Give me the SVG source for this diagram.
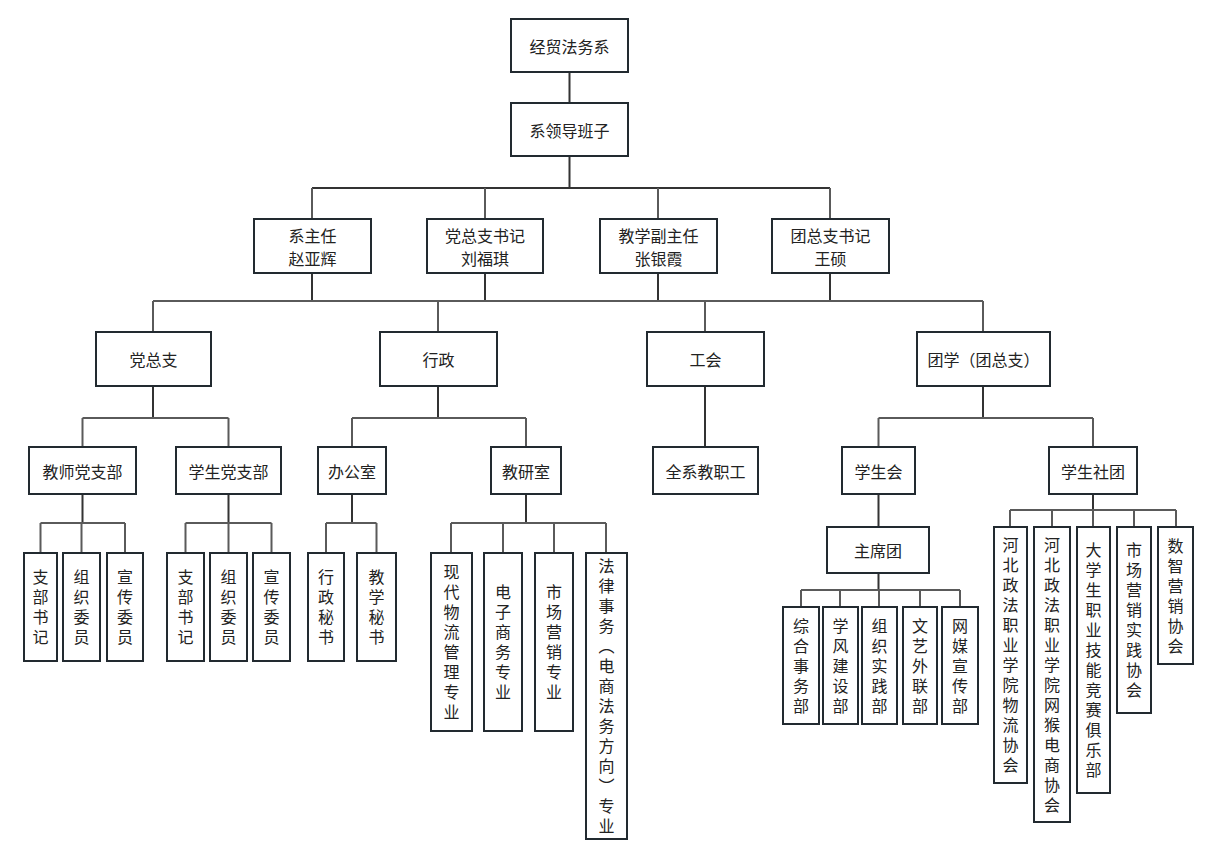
<svg xmlns="http://www.w3.org/2000/svg" width="1216" height="859" viewBox="0 0 1216 859">
<style>
.b rect{fill:#fff;stroke:#222a30;stroke-width:2}
text{font-family:"Noto Sans CJK SC","Noto Sans",sans-serif;font-size:16px;fill:#222;text-anchor:middle;dominant-baseline:central}
.v{writing-mode:vertical-rl;letter-spacing:4px}
#conn path{fill:none;stroke-width:2}
.t{stroke:#333}
.r{stroke:#5a5a5a}
</style>
<rect width="1216" height="859" fill="#fff"/>
<g id="conn">
<path class="t" d="M569.5 72V103M569.5 156V188"/>
<path class="t" d="M312 188H830"/>
<path class="r" d="M312 188V219M485 188V219M658 188V219M830 188V219"/>
<path class="t" d="M312 273V301M485 273V301M658 273V301M830 273V301"/>
<path class="r" d="M153 301H983M153 301V332M438 301V332M705 301V332M983 301V332"/>
<path class="t" d="M153 386V418M438 386V418M705 386V447M983 386V418"/>
<path class="r" d="M82.5 418H228.5M82.5 418V447M228.5 418V447"/>
<path class="r" d="M352 418H526M352 418V447M526 418V447"/>
<path class="r" d="M878.5 418H1093M878.5 418V447M1093 418V447"/>
<path class="t" d="M82.5 494V523M228.5 494V523M352 494V523M526 494V523"/>
<path class="r" d="M40.5 523H125M40.5 523V553M81.5 523V553M125 523V553"/>
<path class="r" d="M185.5 523H271.5M185.5 523V553M228.5 523V553M271.5 523V553"/>
<path class="r" d="M326 523H376.5M326 523V553M376.5 523V553"/>
<path class="r" d="M451 523H606M451 523V553M503 523V553M554 523V553M606 523V553"/>
<path class="t" d="M878.5 494V527M878.5 573V590"/>
<path class="r" d="M801 590H960M801 590V607M840 590V607M879 590V607M920 590V607M960 590V607"/>
<path class="t" d="M1093 494V510"/>
<path class="r" d="M1010 510H1176M1010 510V527M1052 510V527M1093 510V527M1134 510V527M1176 510V527"/>
</g>
<g class="b">
<g id="n-root"><rect x="511" y="19" width="117" height="53"/><text x="569.5" y="45.5">经贸法务系</text></g>
<g id="n-lead"><rect x="511" y="103" width="117" height="53"/><text x="569.5" y="129.5">系领导班子</text></g>
<g id="n-zr"><rect x="254" y="219" width="117" height="54"/><text x="312.5" y="234.5">系主任<tspan x="312.5" dy="23.5">赵亚辉</tspan></text></g>
<g id="n-dz"><rect x="427" y="219" width="116" height="54"/><text x="485" y="234.5">党总支书记<tspan x="485" dy="23.5">刘福琪</tspan></text></g>
<g id="n-jx"><rect x="600" y="219" width="117" height="54"/><text x="658.5" y="234.5">教学副主任<tspan x="658.5" dy="23.5">张银霞</tspan></text></g>
<g id="n-tz"><rect x="772" y="219" width="117" height="54"/><text x="830.5" y="234.5">团总支书记<tspan x="830.5" dy="23.5">王硕</tspan></text></g>
<g id="n-dzz"><rect x="96" y="332" width="115" height="54"/><text x="153.5" y="359">党总支</text></g>
<g id="n-xz"><rect x="380" y="332" width="117" height="54"/><text x="438.5" y="359">行政</text></g>
<g id="n-gh"><rect x="647" y="332" width="117" height="54"/><text x="705.5" y="359">工会</text></g>
<g id="n-tx"><rect x="917" y="332" width="133" height="54"/><text x="983.5" y="359">团学（团总支）</text></g>
<g id="n-jsdzb"><rect x="29" y="447" width="107" height="47"/><text x="82.5" y="470.5">教师党支部</text></g>
<g id="n-xsdzb"><rect x="176" y="447" width="105" height="47"/><text x="228.5" y="470.5">学生党支部</text></g>
<g id="n-bgs"><rect x="318" y="447" width="68" height="47"/><text x="352" y="470.5">办公室</text></g>
<g id="n-jys"><rect x="491" y="447" width="70" height="47"/><text x="526" y="470.5">教研室</text></g>
<g id="n-qx"><rect x="653" y="447" width="105" height="47"/><text x="705.5" y="470.5">全系教职工</text></g>
<g id="n-xsh"><rect x="842" y="447" width="73" height="47"/><text x="878.5" y="470.5">学生会</text></g>
<g id="n-xst"><rect x="1049" y="447" width="88" height="47"/><text x="1093" y="470.5">学生社团</text></g>
<g id="n-zxt"><rect x="827" y="527" width="102" height="46"/><text x="878" y="550">主席团</text></g>
<g id="l1"><rect x="24" y="553" width="33" height="108"/><text class="v" x="40.5" y="609">支部书记</text></g>
<g id="l2"><rect x="63" y="553" width="37" height="108"/><text class="v" x="81.5" y="609">组织委员</text></g>
<g id="l3"><rect x="107" y="553" width="36" height="108"/><text class="v" x="125" y="609">宣传委员</text></g>
<g id="l4"><rect x="167" y="553" width="37" height="108"/><text class="v" x="185.5" y="609">支部书记</text></g>
<g id="l5"><rect x="210" y="553" width="37" height="108"/><text class="v" x="228.5" y="609">组织委员</text></g>
<g id="l6"><rect x="253" y="553" width="37" height="108"/><text class="v" x="271.5" y="609">宣传委员</text></g>
<g id="l7"><rect x="308" y="553" width="36" height="108"/><text class="v" x="326" y="609">行政秘书</text></g>
<g id="l8"><rect x="357" y="553" width="39" height="108"/><text class="v" x="376.5" y="609">教学秘书</text></g>
<g id="l9"><rect x="431" y="553" width="41" height="178"/><text class="v" x="451.5" y="644">现代物流管理专业</text></g>
<g id="l10"><rect x="484" y="553" width="38" height="178"/><text class="v" x="503" y="644">电子商务专业</text></g>
<g id="l11"><rect x="535" y="553" width="38" height="178"/><text class="v" x="554" y="644">市场营销专业</text></g>
<g id="l12"><rect x="586" y="553" width="41" height="286"/><text class="v" x="606.5" y="698">法律事务（电商法务方向）专业</text></g>
<g id="l13"><rect x="783" y="607" width="36" height="117"/><text class="v" x="801" y="667.5">综合事务部</text></g>
<g id="l14"><rect x="823" y="607" width="35" height="117"/><text class="v" x="840.5" y="667.5">学风建设部</text></g>
<g id="l15"><rect x="862" y="607" width="35" height="117"/><text class="v" x="879.5" y="667.5">组织实践部</text></g>
<g id="l16"><rect x="903" y="607" width="34" height="117"/><text class="v" x="920" y="667.5">文艺外联部</text></g>
<g id="l17"><rect x="942" y="607" width="36" height="117"/><text class="v" x="960" y="667.5">网媒宣传部</text></g>
<g id="l18"><rect x="994" y="527" width="33" height="256"/><text class="v" x="1010.5" y="657">河北政法职业学院物流协会</text></g>
<g id="l19"><rect x="1034" y="527" width="36" height="295"/><text class="v" x="1052" y="676.5">河北政法职业学院网猴电商协会</text></g>
<g id="l20"><rect x="1077" y="527" width="33" height="266"/><text class="v" x="1093.5" y="662">大学生职业技能竞赛俱乐部</text></g>
<g id="l21"><rect x="1117" y="527" width="34" height="186"/><text class="v" x="1134" y="622">市场营销实践协会</text></g>
<g id="l22"><rect x="1158" y="527" width="35" height="137"/><text class="v" x="1175.5" y="597.5">数智营销协会</text></g>
</g>
</svg>
